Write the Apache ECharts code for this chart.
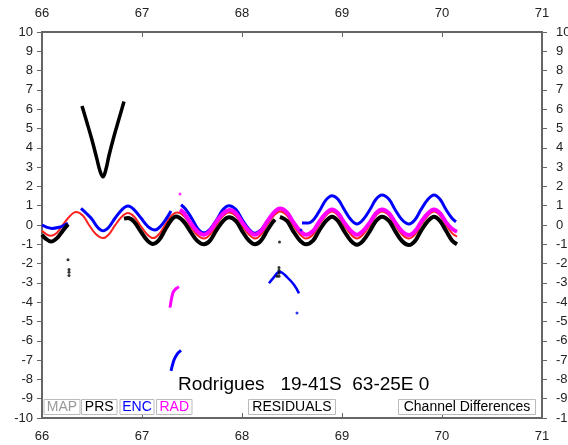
<!DOCTYPE html>
<html><head><meta charset="utf-8">
<script src="https://cdn.jsdelivr.net/npm/echarts@6/dist/echarts.min.js"></script>
<style>html,body{margin:0;padding:0;background:#fff}#c{width:568px;height:445px}</style>
</head><body><div id="c"></div>
<script>
// ---- data (x = day, y = value) ----
var xTicks = [66, 67, 68, 69, 70, 71];
var yTicks = [-10, 10];

var redLine = [[66.00,-0.30],[66.05,-0.50],[66.09,-0.56],[66.15,-0.40],[66.21,0.02],[66.28,0.47],[66.34,0.67],[66.41,0.48],[66.47,0.00],[66.54,-0.48],[66.61,-0.68],[66.67,-0.48],[66.73,-0.02],[66.80,0.44],[66.86,0.62],[66.92,0.44],[66.98,0.00],[67.05,-0.48],[67.11,-0.68],[67.17,-0.48],[67.23,0.00],[67.29,0.46],[67.35,0.65],[67.42,0.46],[67.48,-0.02],[67.55,-0.50],[67.62,-0.70],[67.68,-0.50],[67.74,-0.02],[67.81,0.46],[67.87,0.65],[67.94,0.46],[68.00,-0.02],[68.07,-0.50],[68.13,-0.70],[68.19,-0.50],[68.25,0.00],[68.32,0.49],[68.38,0.70],[68.45,0.49],[68.51,0.00],[68.58,-0.49],[68.64,-0.70],[68.71,-0.49],[68.77,0.00],[68.84,0.49],[68.90,0.70],[68.96,0.49],[69.02,0.00],[69.09,-0.49],[69.15,-0.70],[69.21,-0.49],[69.28,0.00],[69.34,0.49],[69.40,0.70],[69.47,0.49],[69.53,0.00],[69.60,-0.49],[69.67,-0.70],[69.73,-0.49],[69.79,0.00],[69.86,0.49],[69.92,0.70],[69.98,0.49],[70.04,0.00],[70.10,-0.42],[70.15,-0.60]];

var prsSeg1 = [[66.00,-0.50],[66.04,-0.72],[66.09,-0.86],[66.15,-0.68],[66.21,-0.28],[66.26,0.03]];
var prsV = [[66.40,6.17],[66.45,5.30],[66.50,4.40],[66.55,3.40],[66.58,2.80],[66.61,2.50],[66.64,2.90],[66.67,3.60],[66.72,4.60],[66.77,5.50],[66.82,6.40]];
var prsMainA = [[66.82,0.33],[66.86,0.36],[66.92,0.18],[66.98,-0.28],[67.05,-0.78],[67.11,-0.98],[67.17,-0.78],[67.23,-0.26],[67.29,0.24],[67.34,0.44],[67.41,0.22],[67.48,-0.30],[67.55,-0.81],[67.62,-1.00],[67.68,-0.81],[67.74,-0.30],[67.81,0.20],[67.87,0.40],[67.94,0.20],[68.00,-0.30],[68.07,-0.81],[68.13,-1.00],[68.19,-0.81],[68.25,-0.30],[68.30,0.10],[68.33,0.28]];
var prsMainB = [[68.38,0.42],[68.45,0.21],[68.51,-0.30],[68.58,-0.81],[68.64,-1.00],[68.71,-0.81],[68.77,-0.30],[68.84,0.21],[68.90,0.43],[68.96,0.21],[69.02,-0.30],[69.09,-0.82],[69.15,-1.02],[69.21,-0.82],[69.28,-0.30],[69.34,0.21],[69.40,0.43],[69.47,0.21],[69.53,-0.30],[69.60,-0.83],[69.67,-1.04],[69.73,-0.83],[69.79,-0.30],[69.86,0.21],[69.92,0.43],[69.98,0.21],[70.04,-0.30],[70.10,-0.80],[70.15,-1.00]];
var prsDots = [[66.26,-1.80],[66.27,-2.30],[66.27,-2.45],[66.27,-2.62],[68.375,-0.88],[68.37,-2.20],[68.37,-2.35],[68.37,-2.50],[68.35,-2.65],[68.37,-2.65]];

var encSeg1 = [[66.00,0.00],[66.05,-0.12],[66.10,-0.18],[66.17,-0.12],[66.22,-0.02],[66.26,0.08]];
var encSeg2 = [[66.39,0.86],[66.44,0.62],[66.50,0.30],[66.55,-0.08],[66.61,-0.30],[66.67,-0.10],[66.73,0.35],[66.80,0.80],[66.86,0.98],[66.92,0.80],[66.99,0.36],[67.06,-0.08],[67.13,-0.26],[67.18,-0.10],[67.24,0.30],[67.29,0.72]];
var encSeg3 = [[67.39,1.05],[67.44,0.80],[67.50,0.32],[67.56,-0.20],[67.62,-0.40],[67.68,-0.22],[67.75,0.30],[67.81,0.80],[67.87,1.00],[67.94,0.80],[68.00,0.30],[68.07,-0.22],[68.13,-0.43],[68.19,-0.25],[68.23,0.02],[68.27,0.30]];
var encSeg4 = [[68.60,0.10],[68.66,0.10],[68.72,0.30],[68.78,0.78],[68.84,1.30],[68.90,1.52],[68.96,1.33],[69.02,0.82],[69.09,0.27],[69.15,0.05],[69.21,0.27],[69.28,0.80],[69.34,1.33],[69.40,1.55],[69.47,1.33],[69.53,0.80],[69.60,0.27],[69.67,0.05],[69.73,0.27],[69.79,0.80],[69.86,1.33],[69.92,1.55],[69.98,1.33],[70.04,0.80],[70.10,0.35],[70.14,0.17]];
var encLow1 = [[67.29,-7.56],[67.32,-7.00],[67.35,-6.70],[67.39,-6.50]];
var encArc = [[68.27,-3.02],[68.32,-2.70],[68.375,-2.42],[68.45,-2.70],[68.52,-3.10],[68.57,-3.54]];
var encDots = [[68.55,-4.56],[68.59,-0.26]];

var radMain = [[67.38,0.80],[67.42,0.62],[67.48,0.15],[67.55,-0.31],[67.62,-0.50],[67.68,-0.31],[67.74,0.15],[67.81,0.60],[67.88,0.78],[67.94,0.60],[68.00,0.15],[68.07,-0.31],[68.13,-0.50],[68.19,-0.31],[68.25,0.17],[68.32,0.65],[68.38,0.85],[68.45,0.65],[68.51,0.17],[68.58,-0.31],[68.64,-0.50],[68.71,-0.31],[68.77,0.15],[68.84,0.61],[68.90,0.80],[68.96,0.61],[69.02,0.15],[69.09,-0.31],[69.15,-0.50],[69.21,-0.31],[69.28,0.15],[69.34,0.61],[69.40,0.80],[69.47,0.61],[69.53,0.15],[69.60,-0.32],[69.67,-0.52],[69.73,-0.32],[69.79,0.15],[69.86,0.61],[69.92,0.80],[69.98,0.61],[70.04,0.15],[70.10,-0.20],[70.15,-0.35]];
var radLow = [[67.28,-4.28],[67.31,-3.50],[67.34,-3.30],[67.37,-3.20]];
var radDots = [[67.38,1.60]];

var titleText = 'Rodrigues   19-41S  63-25E 0';

// ---- chart ----
var FONT = 'Liberation Sans, Arial, Helvetica, sans-serif';
var chart = echarts.init(document.getElementById('c'), null, {renderer: 'canvas'});

function line(data, color, width, smooth) {
  return {type: 'line', data: data, showSymbol: false, smooth: smooth === undefined ? 0.35 : smooth,
    lineStyle: {color: color, width: width}, itemStyle: {color: color}, silent: true, animation: false, z: 2};
}
function dots(data, color, size) {
  return {type: 'scatter', data: data, symbolSize: size, itemStyle: {color: color}, silent: true, animation: false, z: 3};
}
var axisLineStyle = {show: true, onZero: false, lineStyle: {color: '#666', width: 2}};
var labelStyle = {color: '#222', fontSize: 13, fontFamily: FONT};

function xAx(pos) {
  return {type: 'value', position: pos, min: xTicks[0], max: xTicks[xTicks.length - 1], interval: 1,
    axisLine: axisLineStyle, axisTick: {show: true, inside: true, length: 5, lineStyle: {color: '#666', width: 1}},
    axisLabel: Object.assign({margin: 12}, labelStyle), splitLine: {show: false}};
}
function yAx(pos) {
  return {type: 'value', position: pos, min: yTicks[0], max: yTicks[1], interval: 1,
    axisLine: axisLineStyle, axisTick: {show: true, inside: false, length: 5, lineStyle: {color: '#666', width: 1}},
    axisLabel: Object.assign({margin: pos === 'left' ? 9 : 14}, labelStyle), splitLine: {show: false}};
}

var boxes = [
  {t: 'MAP', x: 44, w: 36, c: '#999'},
  {t: 'PRS', x: 81.5, w: 35.5, c: '#000'},
  {t: 'ENC', x: 120, w: 34, c: '#0000ff'},
  {t: 'RAD', x: 156.5, w: 35.5, c: '#ff00ff'},
  {t: 'RESIDUALS', x: 248.5, w: 87, c: '#000'},
  {t: 'Channel Differences', x: 398.5, w: 137, c: '#000'}
];
var graphics = [];
boxes.forEach(function (b) {
  graphics.push({type: 'rect', shape: {x: b.x, y: 399.5, width: b.w, height: 15}, style: {fill: '#fff', stroke: '#bbb', lineWidth: 1}, z: 10});
  graphics.push({type: 'text', x: b.x + b.w / 2, y: 407.5, style: {text: b.t, fill: b.c, font: '14px ' + FONT, textAlign: 'center', textVerticalAlign: 'middle'}, z: 11});
});
graphics.push({type: 'text', x: 178, y: 385, style: {text: titleText, fill: '#000', font: '19px ' + FONT, textAlign: 'left', textVerticalAlign: 'middle'}, z: 11});

chart.setOption({
  animation: false,
  backgroundColor: '#fff',
  grid: {left: 42, right: 26, top: 32, bottom: 27, containLabel: false, outerBoundsMode: 'none'},
  xAxis: [xAx('bottom'), xAx('top')],
  yAxis: [yAx('left'), yAx('right')],
  graphic: graphics,
  series: [
    line(redLine, '#ff2020', 2),
    line(encSeg1, '#0000ff', 3),
    line(encSeg2, '#0000ff', 3),
    line(encSeg3, '#0000ff', 3),
    line(encSeg4, '#0000ff', 3),
    line(encLow1, '#0000ff', 3, 0.3),
    line(encArc, '#0000ff', 2.5, 0.4),
    dots(encDots, '#0000ff', 3),
    line(radMain, '#ff00ff', 4),
    line(radLow, '#ff00ff', 3, 0.3),
    dots(radDots, '#ff00ff', 3),
    line(prsSeg1, '#000', 4),
    line(prsV, '#000', 3.5, 0.4),
    line(prsMainA, '#000', 4),
    line(prsMainB, '#000', 4),
    dots(prsDots, '#000', 3)
  ]
});
</script>
</body></html>
